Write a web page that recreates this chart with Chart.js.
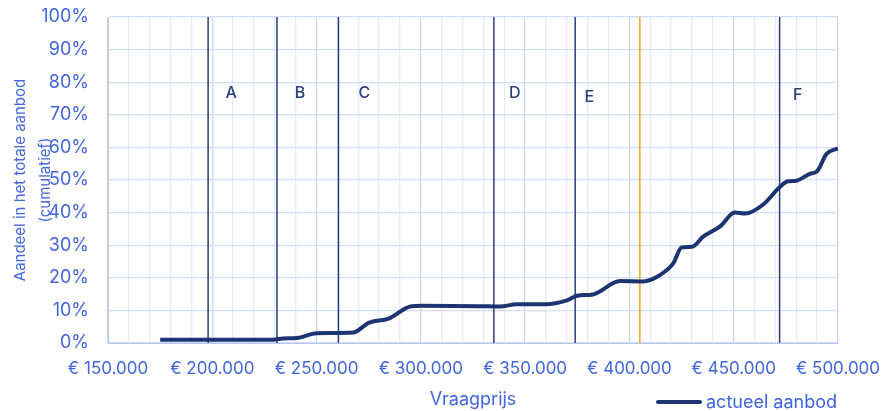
<!DOCTYPE html>
<html>
<head>
<meta charset="utf-8">
<script src="https://cdn.jsdelivr.net/npm/chart.js@4.4.0/dist/chart.umd.min.js"></script>
<style>
  body { margin: 0; background: #fff; }
  #wrap { position: relative; width: 883px; height: 411px; }
  #legend { position: absolute; left: 656px; top: 391px; font: 18px Inter, sans-serif; color: #3f63e0; display: flex; align-items: center; white-space: nowrap; }
  #legend span.swatch { display: inline-block; width: 46px; height: 4px; margin-right: 4px; border-radius: 2px; }
</style>
</head>
<body>
<div id="wrap">
  <canvas id="supplyChart" width="883" height="411"></canvas>
  <div id="legend"></div>
</div>
<script>
// Asking price (x) and cumulative share of supply in % (y)
const askingPrices = [175000, 229000, 234000, 240500, 250000, 267500, 275000, 284500, 295500, 300000,
  328000, 338000, 346000, 360000, 370000, 375000, 382500, 395500, 406500, 414500,
  421000, 425000, 430000, 435500, 443500, 450500, 455500, 464000, 472000, 476000,
  480000, 486500, 490000, 494500, 500000];
const cumulativeShare = [1, 1, 1.4, 1.5, 3, 3.2, 6.2, 7.5, 11.3, 11.4,
  11.3, 11.2, 11.9, 11.9, 13.1, 14.5, 14.9, 19, 18.9, 20.8,
  24.4, 29.3, 29.5, 32.7, 35.8, 40, 39.7, 42.4, 47.8, 49.6,
  49.8, 51.9, 52.7, 58, 59.7];

// Segment boundaries
const segmentLabels = ['A', 'B', 'C', 'D', 'E', 'F'];
const segmentPrices = [198000, 231000, 260500, 335000, 374000, 472000];
const orangePrice = 405000;

const navy = '#1c3472';
const tickBlue = '#4066e0';

function euro(v) {
  return '€ ' + String(v).replace(/\B(?=(\d{3})+(?!\d))/g, '.');
}

// keep the plot area where the layout padding puts it
function noAutoPadding(s) {
  s.paddingLeft = 0;
  s.paddingRight = 0;
  s.paddingTop = 0;
  s.paddingBottom = 0;
}

const datasets = [{
  label: 'actueel aanbod',
  data: askingPrices.map((p, i) => ({ x: p, y: cumulativeShare[i] })),
  borderColor: navy,
  borderWidth: 4,
  pointRadius: 0,
  cubicInterpolationMode: 'monotone'
}];

segmentPrices.forEach(p => {
  datasets.push({
    label: '',
    data: [{ x: p, y: 0 }, { x: p, y: 100 }],
    borderColor: '#2b3f7a',
    borderWidth: 1.5,
    pointRadius: 0
  });
});
datasets.push({
  label: '',
  data: [{ x: orangePrice, y: 0 }, { x: orangePrice, y: 100 }],
  borderColor: '#f5a21b',
  borderWidth: 1.5,
  pointRadius: 0
});

// letters next to the segment lines
const labelOffsets = [23, 23, 26, 21, 14, 18];
const labelHeights = [76.5, 76.5, 76.5, 76.5, 75.3, 76];
const segmentLetters = {
  id: 'segmentLetters',
  afterDatasetsDraw(chart) {
    const { ctx, scales } = chart;
    ctx.save();
    ctx.font = '500 16px Inter, sans-serif';
    ctx.fillStyle = '#2b3f7a';
    ctx.textAlign = 'center';
    ctx.textBaseline = 'middle';
    segmentLabels.forEach((l, i) => {
      ctx.fillText(l, scales.x.getPixelForValue(segmentPrices[i]) + labelOffsets[i],
        scales.y.getPixelForValue(labelHeights[i]));
    });
    ctx.restore();
  }
};

const supplyCtx = document.getElementById('supplyChart').getContext('2d');
const supplyChart = new Chart(supplyCtx, {
  type: 'line',
  data: { datasets: datasets },
  plugins: [segmentLetters],
  options: {
    responsive: false,
    animation: false,
    layout: { padding: { top: 17, right: 45, left: 0, bottom: 0 } },
    plugins: { legend: { display: false }, tooltip: { enabled: false } },
    scales: {
      x: {
        type: 'linear',
        min: 150000,
        max: 500000,
        afterFit: s => { s.height = 68; noAutoPadding(s); },
        ticks: {
          stepSize: 10000,
          autoSkip: false,
          maxRotation: 0,
          padding: 16,
          color: tickBlue,
          font: { family: 'Inter', size: 17 },
          callback: v => (v % 50000 === 0 ? euro(v) : '')
        },
        grid: {
          drawTicks: false,
          color: c => (c.tick && c.tick.value % 50000 === 0 ? '#c9d6f2' : '#e3eafa'),
          lineWidth: 1.3
        },
        border: { color: '#b5c6ec' },
        title: {
          display: true,
          text: 'Vraagprijs',
          color: tickBlue,
          font: { family: 'Inter', size: 18 },
          padding: { top: 4, bottom: 1 }
        }
      },
      y: {
        min: 0,
        max: 100,
        afterFit: s => { s.width = 108; noAutoPadding(s); },
        ticks: {
          stepSize: 10,
          padding: 19,
          color: tickBlue,
          font: { family: 'Inter', size: 18 },
          callback: v => v + '%'
        },
        grid: { drawTicks: false, color: '#d3def5', lineWidth: 1.3 },
        border: { color: '#b5c6ec' },
        title: {
          display: true,
          text: ['Aandeel in het totale aanbod', '(cumulatief)'],
          color: tickBlue,
          font: { family: 'Inter', size: 15, lineHeight: 1.65 },
          padding: { top: 8, bottom: 0 }
        }
      }
    }
  }
});

// legend row next to the axis title
const legend = document.getElementById('legend');
const main = supplyChart.data.datasets[0];
legend.innerHTML = '<span class="swatch" style="background:' + main.borderColor + '"></span>' + main.label;
</script>
</body>
</html>
